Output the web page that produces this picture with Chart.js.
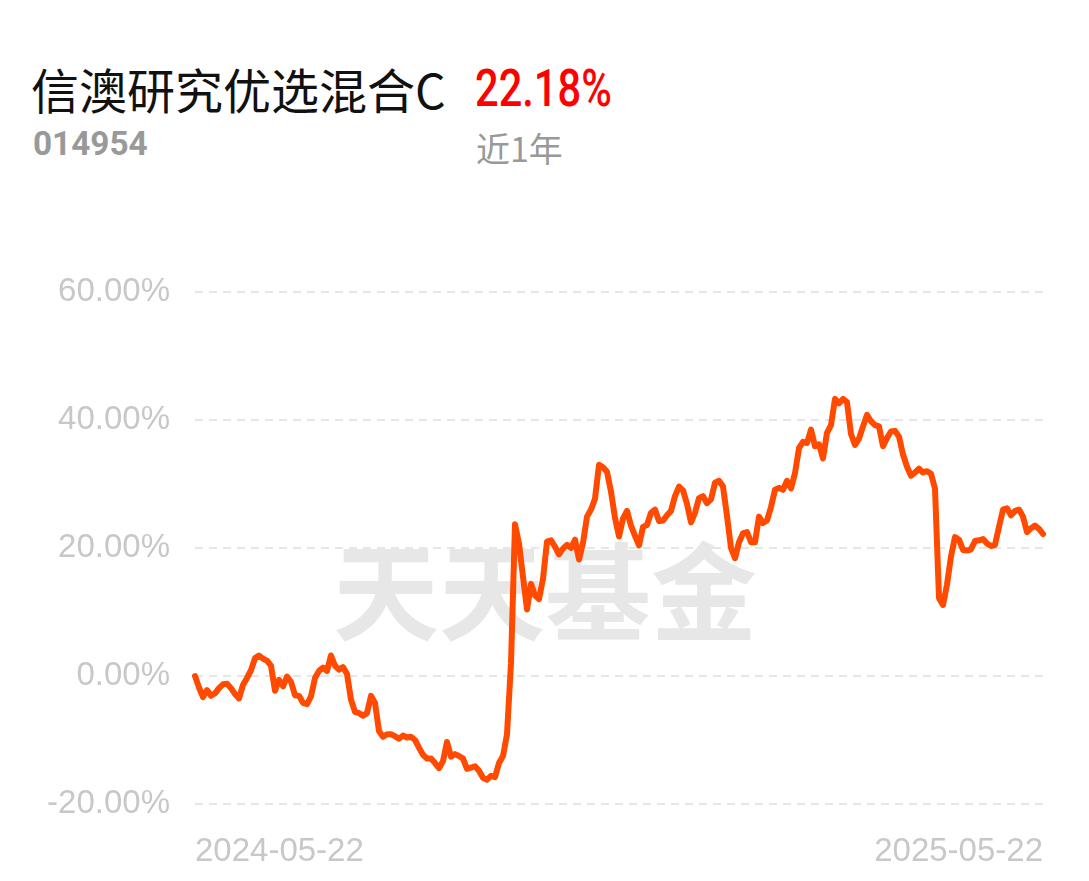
<!DOCTYPE html>
<html lang="zh-CN">
<head>
<meta charset="utf-8">
<title>信澳研究优选混合C</title>
<script src="https://cdn.jsdelivr.net/npm/chart.js@4.4.1/dist/chart.umd.min.js"></script>
<style>
  html, body { margin: 0; padding: 0; background: #fff; }
  body { width: 1089px; height: 881px; position: relative; overflow: hidden; }
  #chart { position: absolute; left: 0; top: 0; }
  .hdr { position: absolute; white-space: nowrap; line-height: 1; }
  #fundName { left: 31px; top: 53px; font: 400 48px "Noto Sans CJK SC", sans-serif; color: #111; }
  #fundCode { left: 33px; top: 123px; font: 700 34px Roboto, sans-serif; color: #999; transform: scaleX(0.98); transform-origin: left; }
  #fundReturn { left: 475px; top: 58px; font: 500 52px Roboto, sans-serif; color: #ff0000; transform: scaleX(0.8); transform-origin: left; }
  #period { left: 476px; top: 123px; font: 400 34px "Noto Sans CJK SC", sans-serif; color: #999; }
</style>
</head>
<body>
<div class="hdr" id="fundName">信澳研究优选混合C</div>
<div class="hdr" id="fundCode">014954</div>
<div class="hdr" id="fundReturn">22.18%</div>
<div class="hdr" id="period">近1年</div>
<canvas id="chart" width="1089" height="881"></canvas>
<script>
// cumulative return over the last year, %, one entry per sampled day
const returns = [
  0.0, -1.8, -3.3, -2.2, -3.1, -2.7, -1.9, -1.3, -1.2, -1.9,
  -2.8, -3.5, -1.4, -0.3, 0.9, 2.8, 3.2, 2.7, 2.4, 1.6,
  -2.3, -0.6, -1.6, -0.1, -0.9, -3.0, -3.1, -4.2, -4.4, -3.2,
  -0.3, 0.8, 1.3, 0.8, 3.2, 1.6, 1.0, 1.4, 0.3, -3.7,
  -5.6, -5.8, -6.2, -5.8, -3.1, -4.2, -8.6, -9.5, -9.1, -9.1,
  -9.4, -9.8, -9.3, -9.6, -9.5, -10.0, -11.2, -12.3, -12.9, -12.9,
  -13.6, -14.4, -13.3, -10.3, -12.6, -12.2, -12.5, -12.9, -14.5, -14.3,
  -14.1, -14.8, -15.9, -16.2, -15.6, -15.8, -13.6, -12.5, -9.1, 2.0,
  23.7, 20.7, 15.5, 10.4, 14.4, 12.6, 12.0, 15.2, 21.0, 21.2,
  20.2, 19.0, 19.9, 20.5, 20.0, 21.3, 18.2, 20.8, 24.9, 26.0,
  27.7, 33.0, 32.6, 31.9, 28.8, 24.7, 21.8, 24.6, 25.8, 23.5,
  21.9, 20.4, 23.3, 23.6, 25.5, 26.0, 24.2, 24.3, 25.1, 25.8,
  28.1, 29.6, 29.0, 26.9, 24.0, 25.5, 27.8, 28.1, 27.0, 27.6,
  30.2, 30.5, 29.6, 25.0, 20.0, 18.4, 20.9, 22.3, 22.5, 20.9,
  20.9, 24.9, 23.9, 24.3, 26.4, 29.1, 29.4, 29.1, 30.5, 29.3,
  31.7, 35.6, 36.6, 36.4, 38.5, 35.9, 36.2, 34.0, 38.0, 39.2,
  43.3, 42.6, 43.3, 42.8, 37.8, 36.1, 37.1, 39.0, 40.8, 39.8,
  39.2, 39.0, 35.9, 37.2, 38.2, 38.3, 37.4, 34.6, 32.7, 31.3,
  31.8, 32.4, 31.8, 32.0, 31.6, 29.3, 12.2, 11.1, 14.3, 18.7,
  21.7, 21.3, 19.7, 19.6, 19.8, 21.1, 21.2, 21.4, 20.7, 20.3,
  20.5, 23.3, 26.0, 26.2, 25.1, 25.8, 26.0, 24.9, 22.5, 23.1,
  23.5, 23.0, 22.18
];
const dayIndex   = returns.map((_, i) => i);
const dateLabels = ["2024-05-22", "2025-05-22"];
const yTicks     = [-20, 0, 20, 40, 60];
const watermark  = "天天基金";

const LINE_COLOR = "#ff4a00";
const AXIS_TEXT  = "#c8c8c8";
const AXIS_FONT  = { family: '"Liberation Sans", Arial, sans-serif', size: 33 };

const watermarkPlugin = {
  id: "watermark",
  beforeDatasetsDraw(chart){
    const { ctx } = chart;
    ctx.save();
    ctx.font = '700 106px "Noto Sans CJK SC", sans-serif';
    ctx.fillStyle = "#e7e7e7";
    ctx.textAlign = "center";
    ctx.textBaseline = "middle";
    ctx.fillText(watermark, 545, 592);
    ctx.restore();
  }
};

new Chart(document.getElementById("chart"), {
  type: "line",
  data: {
    labels: dayIndex,
    datasets: [{
      data: returns,
      borderColor: LINE_COLOR,
      borderWidth: 6,
      pointRadius: 0,
      tension: 0,
      borderJoinStyle: "round",
      borderCapStyle: "round"
    }]
  },
  options: {
    responsive: false,
    animation: false,
    events: [],
    layout: { padding: { left: 0, top: 292, right: 46, bottom: 0 } },
    plugins: { legend: { display: false }, tooltip: { enabled: false } },
    scales: {
      x: {
        grid: { display: false },
        border: { display: false },
        afterFit: (s) => { s.height = 77; },
        ticks: {
          autoSkip: false,
          maxRotation: 0,
          align: "inner",
          padding: 20,
          color: AXIS_TEXT,
          font: AXIS_FONT,
          callback: (v, i) => i === 0 ? dateLabels[0] : (i === returns.length - 1 ? dateLabels[1] : null)
        }
      },
      y: {
        min: yTicks[0],
        max: yTicks[yTicks.length - 1],
        afterFit: (s) => { s.width = 195; },
        afterBuildTicks: (s) => { s.ticks = yTicks.map((v) => ({ value: v })); },
        grid: { color: "#e6e6e6", lineWidth: 2, drawTicks: false },
        border: { display: false, dash: [8, 6] },
        ticks: {
          padding: 25,
          color: AXIS_TEXT,
          font: AXIS_FONT,
          callback: (v) => v.toFixed(2) + "%"
        }
      }
    }
  },
  plugins: [watermarkPlugin]
});
</script>
</body>
</html>
